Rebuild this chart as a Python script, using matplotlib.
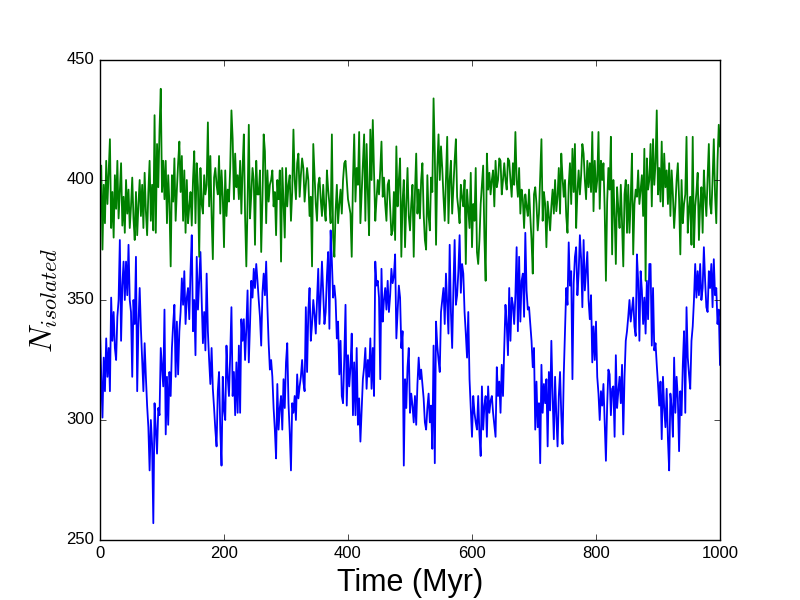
import numpy as np
import matplotlib
matplotlib.use("Agg")
import matplotlib.pyplot as plt

# values, one every 2 Myr (25 per row = 50 Myr)
n_blue = [
    337, 318, 301, 326, 312, 334, 318, 330, 312, 351, 333, 345, 330, 325, 343, 350, 375, 333, 356, 366, 350, 366, 352, 373, 350,
    345, 318, 350, 340, 368, 312, 340, 355, 338, 325, 312, 332, 318, 306, 297, 279, 300, 290, 257, 307, 296, 286, 305, 302, 330,
    322, 314, 346, 294, 318, 298, 320, 310, 330, 340, 348, 318, 341, 319, 337, 345, 359, 348, 362, 340, 351, 355, 342, 362, 377,
    337, 350, 327, 368, 346, 358, 370, 350, 332, 345, 329, 361, 337, 325, 315, 330, 313, 305, 296, 289, 312, 320, 296, 281, 318,
    304, 300, 331, 318, 310, 327, 347, 310, 320, 302, 324, 303, 331, 303, 342, 333, 342, 325, 338, 354, 324, 340, 358, 351, 363,
    355, 365, 358, 350, 343, 331, 353, 361, 352, 366, 347, 332, 321, 325, 318, 305, 296, 284, 315, 296, 305, 310, 296, 317, 305,
    324, 332, 307, 295, 279, 307, 303, 310, 300, 319, 309, 314, 318, 325, 316, 312, 347, 320, 345, 355, 333, 340, 350, 344, 336,
    350, 363, 340, 352, 366, 353, 340, 345, 360, 370, 338, 379, 366, 351, 356, 350, 334, 341, 319, 333, 310, 307, 326, 348, 306,
    327, 314, 322, 336, 302, 324, 302, 330, 298, 309, 291, 304, 317, 322, 330, 313, 325, 318, 334, 313, 330, 310, 366, 356, 358,
    351, 317, 363, 341, 350, 355, 346, 358, 345, 352, 363, 357, 360, 369, 334, 345, 356, 351, 330, 337, 281, 317, 305, 322, 330,
    303, 311, 306, 299, 310, 298, 315, 326, 317, 321, 315, 309, 299, 296, 305, 311, 299, 306, 288, 331, 282, 341, 331, 325, 320,
    345, 350, 355, 340, 361, 348, 336, 373, 345, 330, 355, 375, 348, 352, 362, 377, 353, 365, 361, 345, 336, 326, 345, 317, 305,
    293, 310, 303, 299, 296, 310, 294, 285, 314, 296, 306, 310, 293, 314, 303, 308, 310, 303, 298, 293, 322, 310, 316, 303, 323,
    310, 330, 348, 340, 327, 355, 333, 351, 348, 340, 352, 372, 337, 368, 341, 358, 361, 343, 378, 354, 346, 347, 340, 333, 322,
    330, 296, 316, 297, 307, 282, 323, 303, 315, 307, 317, 289, 320, 304, 333, 310, 292, 318, 302, 289, 310, 320, 302, 290, 319,
    337, 355, 348, 374, 356, 362, 317, 357, 368, 372, 352, 361, 377, 367, 347, 375, 354, 362, 370, 350, 342, 352, 324, 339, 325,
    341, 318, 311, 300, 312, 306, 315, 299, 283, 306, 321, 319, 302, 313, 314, 293, 327, 305, 312, 318, 307, 323, 294, 318, 333,
    337, 343, 350, 341, 346, 351, 339, 335, 369, 358, 333, 362, 354, 340, 351, 336, 358, 342, 365, 365, 331, 355, 329, 332, 323,
    315, 306, 316, 292, 318, 305, 297, 313, 292, 279, 311, 305, 293, 326, 303, 318, 309, 287, 312, 302, 323, 337, 303, 347, 326,
    319, 313, 333, 339, 350, 365, 351, 362, 352, 365, 350, 355, 372, 358, 347, 345, 362, 355, 365, 347, 367, 352, 355, 340, 346,
    323,
]

n_green = [
    385, 406, 371, 398, 382, 408, 390, 403, 417, 380, 395, 376, 402, 388, 408, 384, 396, 407, 381, 393, 378, 400, 386, 396, 380,
    389, 401, 384, 375, 395, 377, 390, 400, 385, 398, 380, 403, 387, 377, 395, 408, 383, 398, 379, 427, 378, 415, 397, 421, 438,
    395, 408, 392, 408, 382, 402, 390, 364, 402, 391, 409, 383, 396, 407, 416, 395, 410, 383, 404, 378, 400, 382, 389, 395, 381,
    400, 412, 382, 407, 397, 368, 405, 390, 386, 402, 394, 398, 424, 389, 410, 385, 367, 401, 405, 398, 394, 410, 386, 404, 393,
    372, 404, 385, 396, 391, 405, 429, 417, 392, 411, 397, 402, 392, 408, 386, 405, 419, 385, 364, 390, 423, 384, 394, 405, 400,
    373, 408, 394, 394, 404, 370, 392, 419, 412, 382, 404, 391, 398, 400, 404, 389, 395, 377, 400, 392, 404, 366, 405, 390, 376,
    405, 389, 398, 402, 383, 395, 421, 400, 392, 407, 411, 393, 402, 409, 405, 391, 398, 405, 400, 385, 393, 364, 415, 402, 390,
    383, 398, 401, 392, 385, 398, 388, 383, 404, 396, 390, 382, 419, 376, 368, 387, 398, 382, 390, 396, 386, 400, 407, 408, 400,
    392, 389, 386, 368, 400, 419, 391, 405, 398, 420, 382, 394, 405, 419, 383, 415, 395, 377, 421, 400, 425, 403, 383, 392, 400,
    394, 404, 416, 393, 401, 390, 383, 398, 400, 388, 377, 379, 395, 375, 414, 389, 400, 409, 368, 391, 400, 372, 390, 405, 385,
    379, 390, 398, 368, 395, 411, 386, 396, 384, 400, 407, 386, 375, 371, 402, 385, 379, 401, 395, 434, 411, 373, 405, 419, 400,
    414, 405, 393, 383, 400, 418, 382, 400, 408, 386, 397, 408, 417, 393, 388, 382, 398, 393, 389, 400, 365, 396, 388, 380, 403,
    372, 390, 383, 405, 370, 365, 375, 390, 398, 406, 376, 358, 411, 396, 403, 394, 400, 404, 389, 408, 397, 400, 409, 408, 394,
    400, 407, 400, 396, 409, 408, 400, 393, 407, 398, 420, 400, 393, 405, 386, 396, 392, 380, 394, 389, 385, 396, 385, 375, 361,
    394, 397, 390, 379, 386, 401, 417, 383, 395, 390, 372, 391, 385, 379, 389, 396, 386, 400, 387, 393, 405, 386, 411, 401, 393,
    400, 385, 378, 398, 407, 390, 413, 395, 415, 380, 395, 404, 394, 402, 415, 411, 400, 392, 408, 397, 407, 395, 420, 387, 408,
    395, 400, 420, 388, 408, 400, 407, 388, 358, 391, 405, 396, 418, 369, 400, 386, 365, 397, 388, 380, 398, 382, 364, 394, 400,
    378, 398, 378, 392, 411, 369, 390, 396, 393, 404, 390, 396, 402, 385, 413, 358, 409, 396, 400, 415, 389, 417, 398, 407, 429,
    394, 405, 391, 416, 389, 411, 397, 404, 390, 407, 385, 404, 394, 380, 389, 400, 407, 392, 369, 400, 382, 390, 394, 418, 378,
    388, 393, 373, 418, 372, 389, 395, 403, 375, 390, 397, 378, 404, 393, 385, 401, 415, 390, 386, 400, 417, 394, 382, 408, 423,
    414,
]

time_step = 2  # Myr between samples
time_blue = np.arange(len(n_blue)) * time_step
time_green = np.arange(len(n_green)) * time_step

plt.style.use("classic")
plt.rcParams["font.family"] = ["Liberation Sans", "DejaVu Sans"]

fig, ax = plt.subplots(figsize=(8, 6), dpi=100)
fig.patch.set_facecolor("white")

ax.plot(time_blue, n_blue, color="b", linewidth=1.3)
ax.plot(time_green, n_green, color="g", linewidth=1.3)

ax.set_xlim(0, 1000)
ax.set_ylim(250, 450)
ax.set_xticks([0, 200, 400, 600, 800, 1000])
ax.set_yticks([250, 300, 350, 400, 450])
ax.tick_params(labelsize=12)

ax.set_xlabel("Time (Myr)", fontsize=22)
ax.set_ylabel(r"$N_{isolated}$", fontsize=23)

fig.subplots_adjust(left=0.125, right=0.9, bottom=0.1, top=0.9)
fig.savefig("out.png", dpi=100, facecolor="white")
